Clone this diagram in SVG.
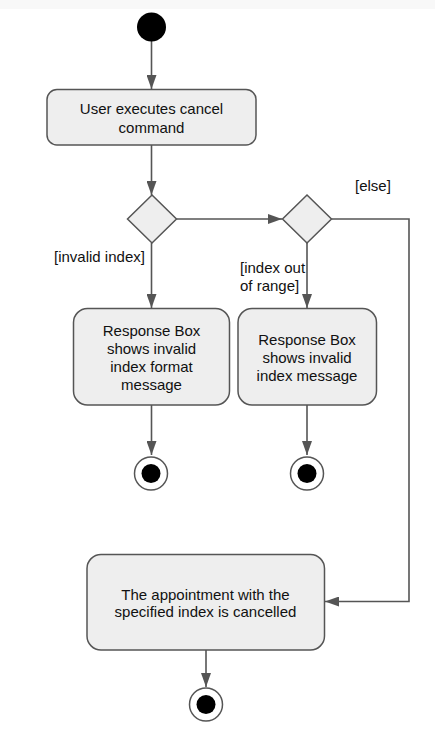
<svg xmlns="http://www.w3.org/2000/svg" width="435" height="748" viewBox="0 0 435 748">
<style>
.node{fill:#eeeeee;stroke:#555555;stroke-width:1.5}
.t{font-family:"Liberation Sans",Arial,sans-serif;font-size:15px;fill:#111111;text-anchor:middle;dominant-baseline:central}
.lbl{font-family:"Liberation Sans",Arial,sans-serif;font-size:15px;fill:#111111;dominant-baseline:central}
.edge{fill:none;stroke:#555555;stroke-width:1.6}
.endo{fill:#ffffff;stroke:#555555;stroke-width:1.5}
</style>
<defs>
<marker id="arrL" viewBox="0 0 14 10" refX="14" refY="5" markerWidth="14" markerHeight="10" markerUnits="userSpaceOnUse" orient="auto">
<path d="M0,0 L14,5 L0,10 Z" fill="#555555"/>
</marker>
</defs>
<rect x="0" y="0" width="435" height="748" fill="#ffffff"/>
<rect x="0" y="0" width="435" height="9" fill="#f8f8f8"/>
<g id="edges">
<path class="edge" d="M151.5,41 V89" marker-end="url(#arrL)"/>
<path class="edge" d="M151.5,145 V195" marker-end="url(#arrL)"/>
<path class="edge" d="M176.5,219 H282" marker-end="url(#arrL)"/>
<path class="edge" d="M151.5,243 V308" marker-end="url(#arrL)"/>
<path class="edge" d="M307,243 V308" marker-end="url(#arrL)"/>
<path class="edge" d="M331.5,219 H409 V601.5 H325" marker-end="url(#arrL)"/>
<path class="edge" d="M151.5,405 V455" marker-end="url(#arrL)"/>
<path class="edge" d="M307,405 V455" marker-end="url(#arrL)"/>
<path class="edge" d="M206,650 V687" marker-end="url(#arrL)"/>
</g>
<g id="start"><circle cx="151.5" cy="27" r="14.5" fill="#000000"/></g>
<g id="userCmd">
<rect class="node" x="47" y="89.5" width="209" height="55.5" rx="10"/>
<text class="t" x="151.5" y="108">User executes cancel</text>
<text class="t" x="151.5" y="127">command</text>
</g>
<g id="decision1"><path class="node" d="M152,195 L176.5,219 L152,243 L127.5,219 Z"/></g>
<g id="decision2"><path class="node" d="M307,195 L331.5,219 L307,243 L282.5,219 Z"/></g>
<g id="labels">
<text class="lbl" x="355" y="185">[else]</text>
<text class="lbl" x="54" y="256.5">[invalid index]</text>
<text class="lbl" x="240" y="267">[index out</text>
<text class="lbl" x="240" y="285">of range]</text>
</g>
<g id="formatMsg">
<rect class="node" x="73.5" y="308.5" width="156" height="96.5" rx="14"/>
<text class="t" x="151.5" y="330.5">Response Box</text>
<text class="t" x="151.5" y="348">shows invalid</text>
<text class="t" x="151.5" y="366">index format</text>
<text class="t" x="151.5" y="384">message</text>
</g>
<g id="rangeMsg">
<rect class="node" x="238" y="308.5" width="138.5" height="96.5" rx="14"/>
<text class="t" x="307" y="339">Response Box</text>
<text class="t" x="307" y="357">shows invalid</text>
<text class="t" x="307" y="375">index message</text>
</g>
<g id="end1"><circle class="endo" cx="151" cy="473.5" r="16.5"/><circle cx="151" cy="473.5" r="9.5" fill="#000000"/></g>
<g id="end2"><circle class="endo" cx="307" cy="473.5" r="16.5"/><circle cx="307" cy="473.5" r="9.5" fill="#000000"/></g>
<g id="cancelled">
<rect class="node" x="87" y="554.5" width="237.5" height="95.5" rx="14"/>
<text class="t" x="205.5" y="594">The appointment with the</text>
<text class="t" x="205.5" y="611.5">specified index is cancelled</text>
</g>
<g id="end3"><circle class="endo" cx="206" cy="704.5" r="16.5"/><circle cx="206" cy="704.5" r="9.5" fill="#000000"/></g>
</svg>
